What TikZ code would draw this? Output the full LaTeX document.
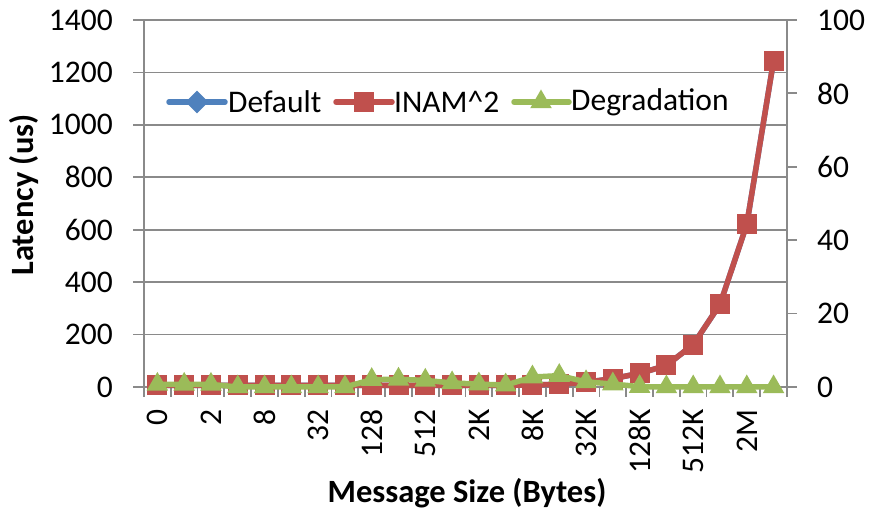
\documentclass[tikz,border=0pt]{standalone}
\usepackage{fontspec}
\setmainfont{Carlito}
\usetikzlibrary{shapes.geometric}
\definecolor{cblue}{HTML}{4F81BD}
\definecolor{cred}{HTML}{C0504D}
\definecolor{cgreen}{HTML}{9BBB59}
\definecolor{cgrid}{HTML}{8A8A8A}
\begin{document}
\begin{tikzpicture}[x=1pt,y=1pt,
  font=\fontsize{31.5}{36}\selectfont,
  gridln/.style={draw=cgrid, line width=1.8pt},
  ser/.style={line width=5.5pt, line join=round, line cap=round},
  sqm/.style={rectangle, fill=cred, minimum size=20pt, inner sep=0pt},
  diam/.style={diamond, fill=cblue, minimum size=19pt, inner sep=0pt},
  diaml/.style={diamond, fill=cblue, minimum size=23pt, inner sep=0pt},
  trim/.style={regular polygon, regular polygon sides=3, fill=cgreen, minimum size=25pt, inner sep=0pt},
  lab/.style={inner sep=0pt}]
\useasboundingbox (0,0) rectangle (871,518);
% gridlines and left axis labels
\foreach \k in {0,...,7}{
  \pgfmathtruncatemacro\lv{\k*200}
  \draw[gridln] (133,{131+\k*52.43}) -- (787,{131+\k*52.43});
  \node[lab,anchor=east] (ly\k) at (113,{131+\k*52.43}) {\lv};
}
% axes
\draw[gridln] (144,131) -- (144,498);
\draw[gridln] (787,131) -- (787,498);
\foreach \k in {0,...,5}{
  \pgfmathtruncatemacro\rv{\k*20}
  \draw[gridln] (787,{131+\k*73.4}) -- (797,{131+\k*73.4});
  \node[lab,anchor=west] (ry\k) at (817,{131+\k*73.4}) {\rv};
}
\foreach \k in {0,...,24}
  \draw[gridln] ({144+\k*26.79},131) -- ({144+\k*26.79},121);
% category labels
\foreach \lb [count=\j from 0] in {0,2,8,32,128,512,2K,8K,32K,128K,512K,2M}
  \node[lab,rotate=90,anchor=east] (xl\j) at ({144+(2*\j+0.5)*26.79},109) {\lb};
% axis titles
\node[lab,rotate=90,font=\fontsize{32.5}{36}\selectfont\bfseries] (ytitle) at (24,323) {Latency (us)};
\node[lab,font=\fontsize{32.5}{36}\selectfont\bfseries] (xtitle) at (467,25) {Message Size (Bytes)};
% data coordinates
\foreach \v [count=\i from 0] in {6,6,6,6,6,6,6,6,6,6,6,6,6,7,8,10,18,32,52,82,162,315,620,1245}
  \coordinate (r\i) at ({144+(\i+0.5)*26.79},{131+\v*0.26214});
\foreach \v [count=\i from 0] in {0.7,0.7,0.7,0,0,0,0,0,2.0,2.1,1.8,1.1,0.8,0.5,2.7,3.1,1.4,0.8,0.1,0,0,0,0,0}
  \coordinate (g\i) at ({144+(\i+0.5)*26.79},{131+\v*3.67});
% Default series (hidden under INAM^2)
\draw[ser,cblue] (r0) \foreach \i in {1,...,23}{ -- (r\i)};
\foreach \i in {0,...,23} \node[diam] (bd\i) at (r\i) {};
% INAM^2 series
\draw[ser,cred] (r0) \foreach \i in {1,...,23}{ -- (r\i)};
\foreach \i in {0,...,23} \node[sqm] (rs\i) at (r\i) {};
% Degradation series
\draw[ser,cgreen] (g0) \foreach \i in {1,...,23}{ -- (g\i)};
\foreach \i in {0,...,23} \node[trim] (gt\i) at (g\i) {};
% legend
\coordinate (la1) at (169,416); \coordinate (lb1) at (225,416);
\draw[ser,cblue] (la1) -- (lb1);
\node[diaml] (lm1) at (197,416) {};
\node[lab,anchor=west] (lt1) at (228,416) {Default};
\coordinate (la2) at (336,416); \coordinate (lb2) at (392,416);
\draw[ser,cred] (la2) -- (lb2);
\node[sqm] (lm2) at (364,416) {};
\node[lab,anchor=west] (lt2) at (394,416) {INAM\^{}2};
\coordinate (la3) at (514,416); \coordinate (lb3) at (569,416);
\draw[ser,cgreen] (la3) -- (lb3);
\node[trim] (lm3) at (541,416) {};
\node[lab,anchor=west] (lt3) at (571,416) {Degradation};
\end{tikzpicture}
\end{document}
